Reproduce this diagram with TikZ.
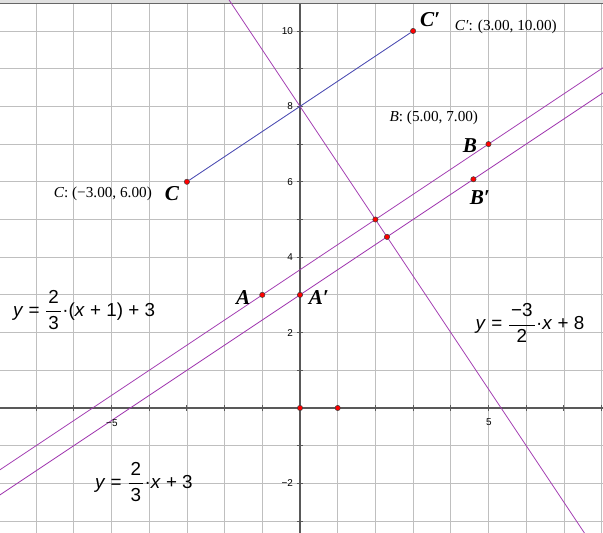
\documentclass[tikz,border=0pt]{standalone}
\usepackage{fontspec}
\setmainfont{Liberation Serif}
\newfontfamily\eqfont{Liberation Sans}
\definecolor{lineviolet}{RGB}{160,55,175}
\definecolor{segblue}{RGB}{70,70,175}
\newcommand{\eqfr}[2]{$\displaystyle\frac{\mbox{\kern1.5pt#1\kern1.5pt}}{\mbox{\kern1.5pt#2\kern1.5pt}}$}

\begin{document}
\begin{tikzpicture}[
	gridline/.style={
		draw=black!25,
		line width=0.6pt
	},
	axisline/.style={
		draw=black!65,
		line width=0.9pt
	},
	graphline/.style={
		draw=lineviolet,
		line width=0.6pt
	},
	segline/.style={
		draw=segblue,
		line width=0.6pt
	},
	pt/.style={
		circle,
		fill=red,
		draw=black!75,
		line width=0.4pt,
		inner sep=0pt,
		minimum size=4pt
	},
	ptname/.style={
		font=\fontsize{16}{16}\selectfont\bfseries\itshape,
		inner sep=0pt
	},
	coordlabel/.style={
		font=\fontsize{11.5}{12}\selectfont,
		inner sep=0pt
	},
	eqlabel/.style={
		font=\eqfont\fontsize{14.2}{16}\selectfont,
		inner sep=0pt
	},
	ticklabel/.style={
		font=\eqfont\fontsize{7.5}{8}\selectfont,
		inner sep=0pt
	}
	]
	
	\useasboundingbox (-7.958,-3.316) rectangle (8.037,10.822);
	
	% -------------------------------------------------------------------------
	% Grid, axes and ticks
	% -------------------------------------------------------------------------
	
	\begin{scope}
		\clip (-7.958,-3.316) rectangle (8.037,10.822);
		
		\foreach \x in {-7,...,8}
		\draw[gridline] (\x,-3.4) -- (\x,10.9);
		\foreach \y in {-3,...,10}
		\draw[gridline] (-8,\y) -- (8.1,\y);
		
		\draw[axisline] (-8,0) -- (8.1,0);
		\draw[axisline] (0,-3.4) -- (0,10.72);
		
		\foreach \x in {-7,...,8}
		\draw[axisline,line width=0.7pt] (\x,-0.08) -- (\x,0.08);
		\foreach \y in {-3,...,10}
		\draw[axisline,line width=0.7pt] (-0.08,\y) -- (0.08,\y);
		
		% window frame at the top
		\fill[black!12] (-8,10.72) rectangle (8.1,10.9);
		\draw[black!60,line width=0.8pt] (-8,10.72) -- (8.1,10.72);
		
		% -------------------------------------------------------------------------
		% Lines
		% -------------------------------------------------------------------------
		
		\coordinate (L1a) at (-8.5,-2);
		\coordinate (L1b) at (8.5,9.3333);
		\coordinate (L2a) at (-8.5,-2.6667);
		\coordinate (L2b) at (8.5,8.6667);
		\coordinate (L3a) at (-2.2,11.3);
		\coordinate (L3b) at (8,-4);
		
		\draw[graphline] (L1a) -- (L1b);
		\draw[graphline] (L2a) -- (L2b);
		\draw[graphline] (L3a) -- (L3b);
	\end{scope}
	
	\node[ticklabel,anchor=east] (T10) at (-0.18,10) {10};
	\node[ticklabel,anchor=east] (T8) at (-0.18,8) {8};
	\node[ticklabel,anchor=east] (T6) at (-0.18,6) {6};
	\node[ticklabel,anchor=east] (T4) at (-0.18,4) {4};
	\node[ticklabel,anchor=east] (T2) at (-0.18,2) {2};
	\node[ticklabel,anchor=east] (Tm2) at (-0.18,-2) {−2};
	\node[ticklabel] (Tm5) at (-4.99,-0.39) {−5};
	\node[ticklabel] (T5) at (5.01,-0.38) {5};
	
	% -------------------------------------------------------------------------
	% Points
	% -------------------------------------------------------------------------
	
	\node[pt] (C) at (-3,6) {};
	\node[pt] (Cp) at (3,10) {};
	\draw[segline] (C) -- (Cp);
	
	\node[pt] (A) at (-1,3) {};
	\node[pt] (Ap) at (0,3) {};
	\node[pt] (B) at (5,7) {};
	\node[pt] (Bp) at (4.6,6.0667) {};
	\node[pt] (P) at (2,5) {};
	\node[pt] (Q) at (2.3077,4.5385) {};
	\node[pt] (O) at (0,0) {};
	\node[pt] (E) at (1,0) {};
	
	% -------------------------------------------------------------------------
	% Point names and coordinates
	% -------------------------------------------------------------------------
	
	\node[ptname] (Cname) at (-3.40,5.70) {C};
	\node[ptname] (Cpname) at (3.45,10.29) {C′};
	\node[ptname] (Bname) at (4.51,6.95) {B};
	\node[ptname] (Bpname) at (4.77,5.57) {B′};
	\node[ptname] (Aname) at (-1.51,2.94) {A};
	\node[ptname] (Apname) at (0.50,2.94) {A′};
	
	\node[coordlabel] (Ccoord) at (-5.23,5.68) {\textit{C}: (−3.00, 6.00)};
	\node[coordlabel] (Cpcoord) at (5.46,10.11) {\textit{C′}: (3.00, 10.00)};
	\node[coordlabel] (Bcoord) at (3.55,7.69) {\textit{B}: (5.00, 7.00)};
	
	% -------------------------------------------------------------------------
	% Equations
	% -------------------------------------------------------------------------
	
	\node[eqlabel] (EQ1) at (-5.73,2.60)
	{\textit{y} = \eqfr{2}{3}·(\textit{x} + 1) + 3};
	
	\node[eqlabel] (EQ3) at (6.10,2.25)
	{\textit{y} = \eqfr{−3}{2}·\textit{x} + 8};
	
	\node[eqlabel] (EQ2) at (-4.14,-1.96)
	{\textit{y} = \eqfr{2}{3}·\textit{x} + 3};
	
\end{tikzpicture}
\end{document}
